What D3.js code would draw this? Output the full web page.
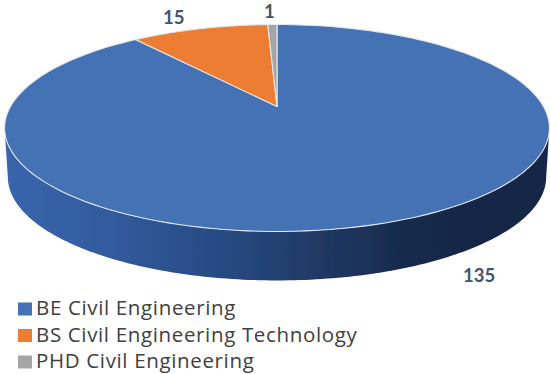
<!DOCTYPE html>
<html><head><meta charset="utf-8">
<script src="https://cdn.jsdelivr.net/npm/d3@7"></script>
<style>html,body{margin:0;padding:0;background:#fff}svg{display:block}text.v{font-family:Lato,"Open Sans",sans-serif}text.l{font-family:"Open Sans",sans-serif;letter-spacing:.65px}</style>
</head><body><svg id="c" width="550" height="374"></svg>
<script>
const categories = ["BE Civil Engineering","BS Civil Engineering Technology","PHD Civil Engineering"];
const values = [135,15,1];
const colors = ["#4472B4","#ED7D31","#A5A5A5"];
const valueLabels = [{x:463,y:282,i:0},{x:163,y:24,i:1},{x:264,y:18,i:2}];

const svg = d3.select("#c");
const W=550,H=374;
const apex=[277,106.5], k=-0.2077, by=99.0, cx=266.5, depth=49, shrink=0.988;
function project(a, bottom){
  const X=Math.sin(a), Y=-Math.cos(a), d=1+k*Y;
  const s=bottom?shrink:1;
  return [apex[0]+cx*s*X/d, apex[1]+by*Y/d+(bottom?depth:0)];
}
const line=d3.line();
const pie=d3.pie().sort(null).value(d=>d);
const arcs=pie(values);
const samples=(a0,a1,n=160)=>d3.range(n+1).map(i=>a0+(a1-a0)*i/n);

const defs=svg.append("defs");
const grad=defs.append("linearGradient").attr("id","side").attr("gradientUnits","userSpaceOnUse")
  .attr("x1",8).attr("x2",545).attr("y1",0).attr("y2",0);
[[0,"#3A65AC"],[0.2,"#315A9C"],[0.4,"#274A82"],[0.55,"#213C69"],[0.75,"#17294A"],[1,"#152645"]]
  .forEach(s=>grad.append("stop").attr("offset",s[0]).attr("stop-color",s[1]));
defs.append("filter").attr("id","soft").attr("x","-5%").attr("y","-5%").attr("width","110%").attr("height","110%")
  .append("feGaussianBlur").attr("stdDeviation",0.45);

const g=svg.append("g").attr("filter","url(#soft)");
// side wall: from the widest point on the right, round the front, to the widest point on the left
const all=samples(0,Math.PI*2,720);
const aR=d3.greatest(all,a=>project(a,false)[0]);
const aL=d3.least(all,a=>project(a,false)[0]);
const upper=samples(aR,aL).map(a=>project(a,false));
const lower=samples(aL,aR).map(a=>project(a,true));
g.append("path").attr("d",line(upper.concat(lower))+"Z").attr("fill","url(#side)");
// top face
arcs.forEach((d,i)=>{
  const pts=[apex].concat(samples(d.startAngle,d.endAngle).map(a=>project(a,false)));
  g.append("path").attr("d",line(pts)+"Z").attr("fill",colors[i])
   .attr("stroke","#E4E8EF").attr("stroke-width",1.1).attr("stroke-linejoin","round");
});
// value labels
svg.selectAll("text.v").data(valueLabels).join("text").attr("class","v")
  .attr("x",d=>d.x).attr("y",d=>d.y).text(d=>values[d.i])
  .attr("font-size",18.5).attr("font-weight",700).attr("fill","#44546A");
// legend
const ly=d3.scalePoint().domain(categories).range([315,368]);
svg.selectAll("rect.l").data(categories).join("rect").attr("class","l")
  .attr("x",18).attr("y",d=>ly(d)-12.5).attr("width",14).attr("height",13)
  .attr("fill",(d,i)=>colors[i]);
svg.selectAll("text.l").data(categories).join("text").attr("class","l")
  .attr("x",36).attr("y",d=>ly(d)).text(d=>d)
  .attr("font-size",20.5).attr("fill","#404040");
</script></body></html>
